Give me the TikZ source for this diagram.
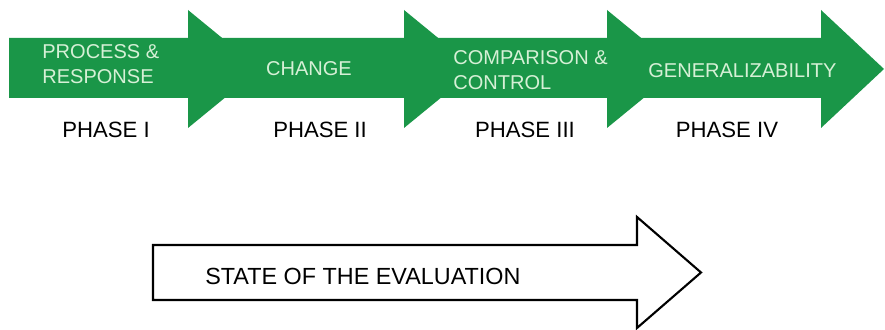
\documentclass[tikz,border=0pt]{standalone}
\usepackage{fontspec}
\setmainfont{Liberation Sans}
\definecolor{arrowgreen}{RGB}{26,150,72}
\definecolor{labelgreen}{RGB}{214,240,214}

\begin{document}
\begin{tikzpicture}[x=0.02cm, y=0.02cm]
    \useasboundingbox (0,0) rectangle (885,330);

    \fill[arrowgreen] (9,292) -- (188,292) -- (188,320) -- (260,261) -- (188,202) -- (188,232) -- (9,232) -- cycle; % phase I arrow
    \fill[arrowgreen] (188,292) -- (404,292) -- (404,320) -- (476,261) -- (404,202) -- (404,232) -- (188,232) -- cycle; % phase II arrow
    \fill[arrowgreen] (404,292) -- (607,292) -- (607,320) -- (679,261) -- (607,202) -- (607,232) -- (404,232) -- cycle; % phase III arrow
    \fill[arrowgreen] (607,292) -- (821,292) -- (821,320) -- (884,261) -- (821,202) -- (821,232) -- (607,232) -- cycle; % phase IV arrow

    \draw[line width=1.2pt, fill=white] (153,85) -- (637,85) -- (637,113) -- (701,57.5) -- (637,2) -- (637,30) -- (153,30) -- cycle; % evaluation arrow

    \node[align=left, anchor=west, text=labelgreen, font=\fontsize{11.4}{14.2}\selectfont, inner sep=0pt] (process) at (42,265.5) {PROCESS \&\\RESPONSE};
    \node[align=center, text=labelgreen, font=\fontsize{11.4}{14.2}\selectfont, inner sep=0pt] (change) at (309,261) {CHANGE};
    \node[align=left, anchor=west, text=labelgreen, font=\fontsize{11.4}{14.2}\selectfont, inner sep=0pt] (comparison) at (453,260) {COMPARISON \&\\CONTROL};
    \node[align=left, anchor=west, text=labelgreen, font=\fontsize{11.4}{14.2}\selectfont, inner sep=0pt] (general) at (648,259) {GENERALIZABILITY};

    \node[align=center, font=\fontsize{12.6}{15}\selectfont, inner sep=0pt] (phaseI) at (106,200.5) {PHASE I};
    \node[align=center, font=\fontsize{12.6}{15}\selectfont, inner sep=0pt] (phaseII) at (320,200.5) {PHASE II};
    \node[align=center, font=\fontsize{12.6}{15}\selectfont, inner sep=0pt] (phaseIII) at (525,200) {PHASE III};
    \node[align=center, font=\fontsize{12.6}{15}\selectfont, inner sep=0pt] (phaseIV) at (727,200) {PHASE IV};

    \node[align=left, anchor=west, font=\fontsize{13.3}{16}\selectfont, inner sep=0pt] (state) at (205,54) {STATE OF THE EVALUATION};
\end{tikzpicture}
\end{document}
